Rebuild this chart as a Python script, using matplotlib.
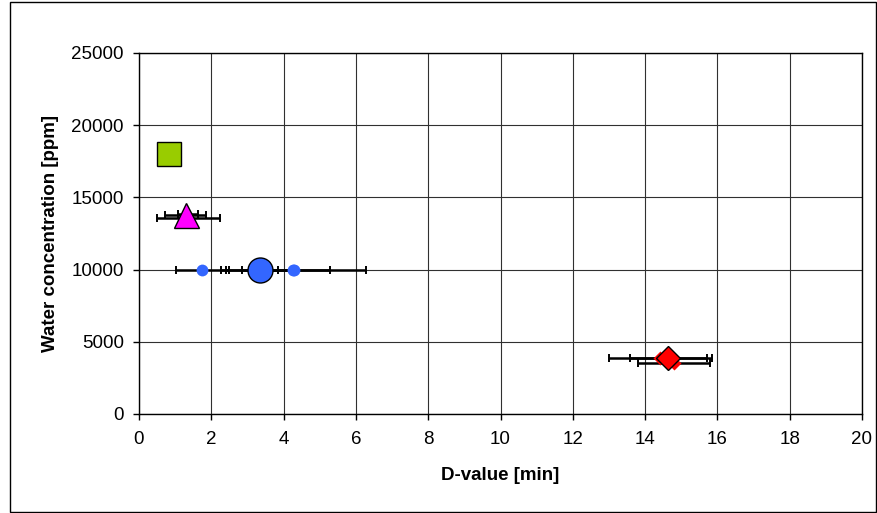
import numpy as np
import matplotlib
matplotlib.use("Agg")
import matplotlib.pyplot as plt
from matplotlib.patches import Rectangle

plt.rcParams['font.family'] = ['Liberation Sans', 'DejaVu Sans']

# water concentration [ppm] vs D-value [min]
# single points per series (small markers) + series mean (big marker)
green_x = [0.83]
green_y = [18000]

magenta_x = [1.38, 1.35]
magenta_y = [13600, 13830]
magenta_err = [0.87, 0.27]
magenta_mean_x = [1.29]
magenta_mean_y = [13780]
magenta_mean_err = [0.57]

blue_x = [1.75, 3.35, 4.29, 4.27]
blue_y = [10000, 10000, 10000, 10000]
blue_err = [0.73, 0.50, 0.99, 2.00]
blue_mean_x = [3.36]
blue_mean_y = [10000]
blue_mean_err = [0.95]

red_x = [14.42, 14.80]
red_y = [3900, 3560]
red_err = [1.43, 0.99]
red_mean_x = [14.64]
red_mean_y = [3850]
red_mean_err = [1.07]

x_ticks = [0, 2, 4, 6, 8, 10, 12, 14, 16, 18, 20]
y_ticks = [0, 5000, 10000, 15000, 20000, 25000]

FONT_SZ = 13.5


def add_errbars(ax, xs, ys, errs):
  ax.errorbar(xs, ys, xerr=errs, fmt='none', ecolor='black',
              elinewidth=1.8, capsize=3.2, capthick=1.4, zorder=3)


def plot_chart(png_name):
  fig = plt.figure(figsize=(8.77, 5.13), dpi=100, facecolor='w')
  # outer chart frame
  fig.patches.append(Rectangle((10 / 877, 1 / 513), 866 / 877, 510 / 513,
                               transform=fig.transFigure, fill=False,
                               edgecolor='black', linewidth=1.0))
  ax = fig.add_axes([139 / 877, 99 / 513, 723 / 877, 361 / 513])

  ax.set_xlim(0, 20)
  ax.set_ylim(0, 25000)
  ax.set_xticks(x_ticks)
  ax.set_yticks(y_ticks)
  ax.set_xticklabels([str(t) for t in x_ticks], fontsize=FONT_SZ)
  ax.set_yticklabels([str(t) for t in y_ticks], fontsize=FONT_SZ)
  ax.tick_params(axis='y', direction='out', length=4, width=1, pad=7)
  ax.tick_params(axis='x', direction='out', length=4, width=1, pad=8)

  ax.grid(True, color='#303030', linewidth=0.8)
  ax.set_axisbelow(True)
  for sp in ax.spines.values():
    sp.set_color('black')
    sp.set_linewidth(1.0)

  ax.set_xlabel("D-value [min]", fontsize=FONT_SZ, fontweight='bold', labelpad=14)
  ax.set_ylabel("Water concentration [ppm]", fontsize=FONT_SZ, fontweight='bold', labelpad=9)

  # error bars of single points and means
  add_errbars(ax, magenta_x, magenta_y, magenta_err)
  add_errbars(ax, magenta_mean_x, magenta_mean_y, magenta_mean_err)
  add_errbars(ax, blue_x, blue_y, blue_err)
  add_errbars(ax, blue_mean_x, blue_mean_y, blue_mean_err)
  add_errbars(ax, red_x, red_y, red_err)
  add_errbars(ax, red_mean_x, red_mean_y, red_mean_err)

  # single points
  ax.plot(magenta_x, magenta_y, '^', ms=9, color='#FF00FF', mec='none', zorder=4)
  ax.plot(blue_x, blue_y, 'o', ms=8.5, color='#3366FF', mec='none', zorder=4)
  ax.plot(red_x, red_y, 'D', ms=7, color='#FF0000', mec='none', zorder=4)

  # means
  ax.plot(green_x, green_y, 's', ms=17.5, color='#99CC00', mec='black', mew=1.0, zorder=5)
  ax.plot(magenta_mean_x, magenta_mean_y, '^', ms=18, color='#FF00FF', mec='black', mew=1.0, zorder=5)
  ax.plot(blue_mean_x, blue_mean_y, 'o', ms=18, color='#3366FF', mec='black', mew=1.0, zorder=5)
  ax.plot(red_mean_x, red_mean_y, 'D', ms=12.5, color='#FF0000', mec='black', mew=1.0, zorder=5)

  fig.savefig(png_name, dpi=100)
  plt.close()


def main():
  plot_chart("out.png")


if __name__ == "__main__":
  main()
